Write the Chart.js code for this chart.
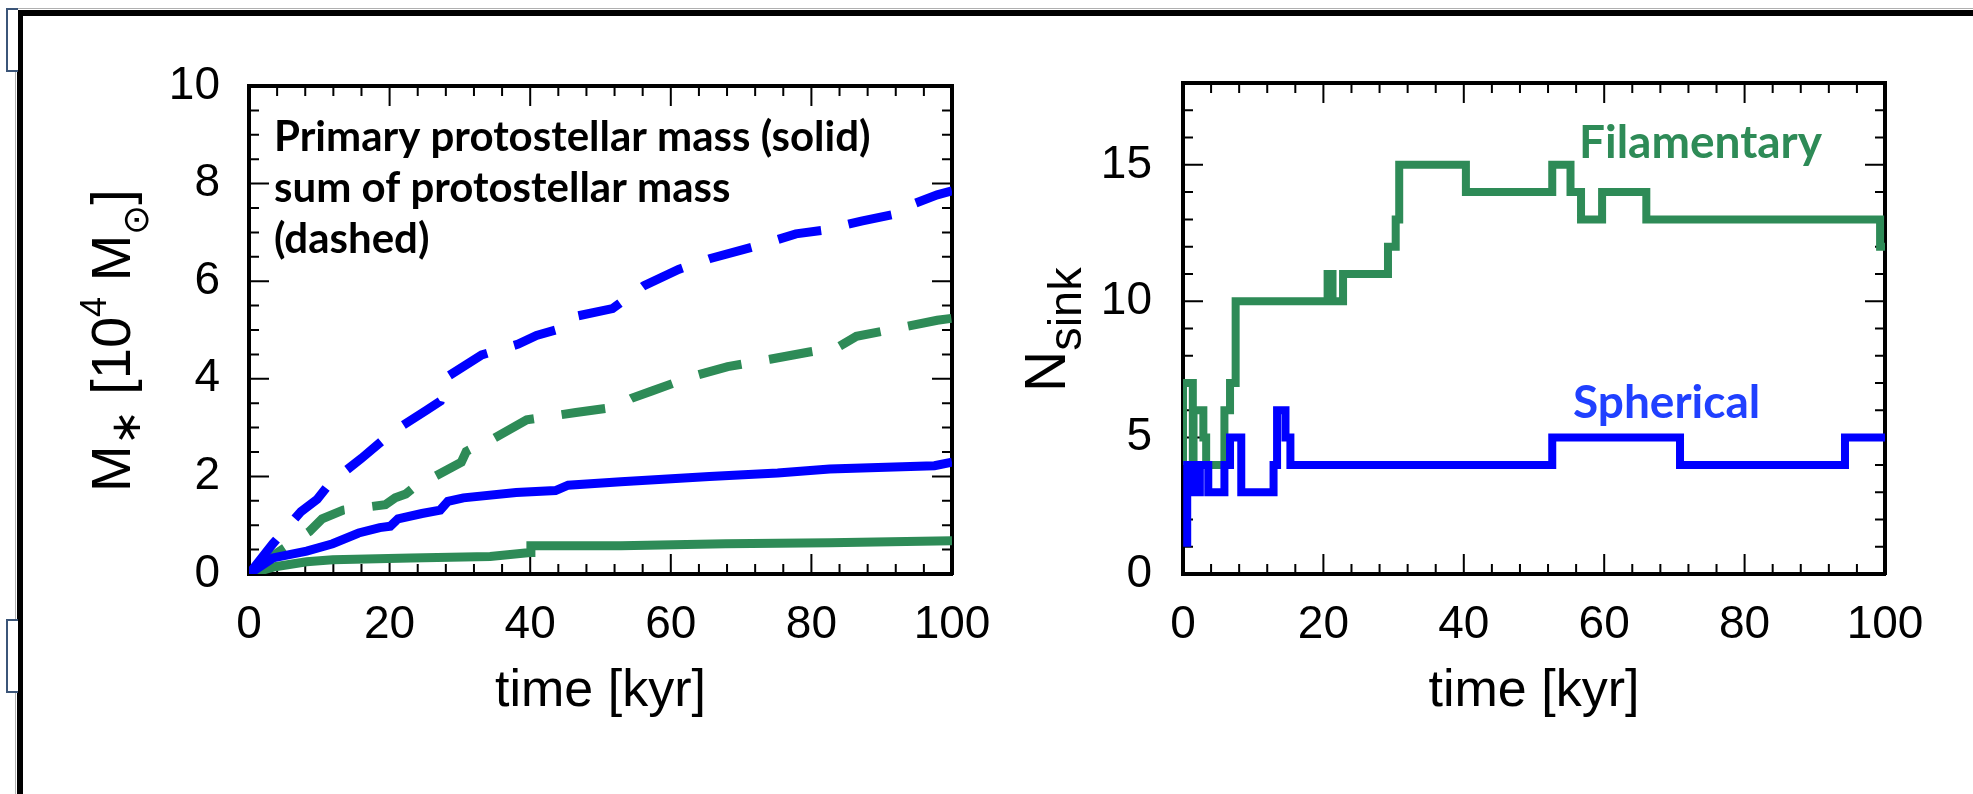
<!DOCTYPE html>
<html>
<head>
<meta charset="utf-8">
<script src="https://cdn.jsdelivr.net/npm/chart.js@4.4.1/dist/chart.umd.min.js"></script>
<style>
  html, body { margin: 0; padding: 0; background: #fff; }
  body { width: 1973px; height: 794px; position: relative; overflow: hidden; }
  .bar { position: absolute; background: #000; }
  .rule { position: absolute; background: #b0b0b0; }
  .tab { position: absolute; left: 6px; width: 10px; border: 2px solid #3b5578; border-right: none; background: #fff; }
  canvas { position: absolute; }
</style>
</head>
<body>
<div class="rule" style="left:15px; top:8px; width:1958px; height:1px;"></div>
<div class="rule" style="left:15px; top:8px; width:1px; height:786px;"></div>
<div class="bar" style="left:17px; top:10px; width:1956px; height:6px;"></div>
<div class="bar" style="left:17px; top:10px; width:6px; height:784px;"></div>
<div class="tab" style="top:8px; height:60px;"></div>
<div class="tab" style="top:619px; height:70px;"></div>
<canvas id="massChart" width="1000" height="760" style="left:30px; top:20px;"></canvas>
<canvas id="sinkChart" width="950" height="760" style="left:1010px; top:20px;"></canvas>
<script>
// left panel: protostellar mass [10^4 Msun] against time [kyr]
const sphPrimaryTime = [0, 3.4, 8.2, 11.9, 15.6, 18.6, 20.1, 21.2, 24.6, 27.2, 28.3, 30.5, 38, 43.6, 45.4, 52.9, 65.5, 75.2, 82.6, 97.5, 100];
const sphPrimaryMass = [0, 0.33, 0.47, 0.62, 0.84, 0.95, 0.98, 1.13, 1.24, 1.31, 1.49, 1.56, 1.67, 1.71, 1.82, 1.89, 2.0, 2.07, 2.15, 2.22, 2.29];
const sphSumTime = [0, 3.4, 7.4, 9.7, 11.5, 16.0, 20.5, 25.3, 27.2, 27.9, 28.3, 33.1, 38.3, 40.9, 43.6, 45.8, 51.7, 56.2, 61.1, 65.5, 72.2, 77.8, 81.5, 87.1, 93.1, 94.6, 97.9, 100];
const sphSumMass = [0, 0.62, 1.28, 1.53, 1.86, 2.37, 2.92, 3.36, 3.54, 3.98, 4.05, 4.49, 4.71, 4.89, 5.0, 5.26, 5.44, 5.91, 6.24, 6.46, 6.72, 6.97, 7.04, 7.23, 7.41, 7.59, 7.77, 7.85];
const filPrimaryTime = [0, 3.7, 8.2, 11.9, 23, 34.3, 40.0, 40.1, 52.9, 67.8, 82.6, 100];
const filPrimaryMass = [0, 0.15, 0.25, 0.29, 0.33, 0.36, 0.44, 0.58, 0.58, 0.62, 0.64, 0.68];
const filSumTime = [0, 4.1, 8.6, 10.4, 13.4, 19.4, 20.8, 22.3, 23.5, 25, 30.2, 30.9, 32.4, 34.6, 39.5, 46.5, 52.1, 54.4, 57.3, 62.9, 68.1, 74.1, 79.7, 83.8, 86.4, 92.7, 97.9, 100];
const filSumMass = [0, 0.44, 0.87, 1.13, 1.31, 1.42, 1.56, 1.64, 1.78, 1.89, 2.29, 2.51, 2.62, 2.76, 3.16, 3.31, 3.42, 3.6, 3.75, 4.04, 4.25, 4.4, 4.55, 4.65, 4.87, 5.05, 5.2, 5.24];

// right panel: number of sinks, each count holds from its time on
const filTime = [0, 0, 1.4, 1.5, 2.9, 3.3, 5.9, 6.7, 7.5, 20.6, 21.3, 22.8, 29.2, 30.3, 30.8, 40.3, 52.6, 55.2, 56.7, 59.7, 66.0, 99.3, 100];
const filCount = [4, 7, 4, 6, 5, 4, 6, 7, 10, 11, 10, 11, 12, 13, 15, 14, 15, 14, 13, 14, 13, 12, 12];
const sphTime = [0.6, 0.6, 1.5, 2.4, 3.6, 5.9, 6.7, 8.3, 12.9, 13.4, 14.6, 15.3, 52.6, 70.8, 94.3, 100];
const sphCount = [1, 4, 3, 4, 3, 4, 5, 3, 4, 6, 5, 4, 5, 4, 5, 5];

// axis ranges and tick steps
const massTicks = { xMax: 100, xMajor: 20, xMinor: 4, yMax: 10, yMajor: 2, yMinor: 0.5 };
const sinkTicks = { xMax: 100, xMajor: 20, xMinor: 4, yMax: 18, yMajor: 5, yMinor: 1 };

const BLUE = "#0000ff";
const GREEN = "#2e8b57";
const sansFont = "'Liberation Sans', Arial, sans-serif";
const tickFont = { family: sansFont, size: 46, lineHeight: 1 };

// inward tick mark length per axis id
const tickMarkLength = { x: 20, xTop: 20, y: 20, yRight: 20, xMinorB: 10, xMinorT: 10, yMinorL: 10, yMinorR: 10 };

const toPoints = (xs, ys) => xs.map((x, i) => ({ x: x, y: ys[i] }));

// one side of the box frame
function frameAxis(position, max, step, weight, size, labels, pad) {
    const horizontal = position === "top" || position === "bottom";
    return {
        type: "linear",
        axis: horizontal ? "x" : "y",
        position: position,
        min: 0,
        max: max,
        weight: weight,
        border: { display: weight === 1, color: "#000", width: 4 },
        grid: { display: false, drawTicks: false },
        ticks: {
            display: labels, stepSize: step, includeBounds: false, autoSkip: false,
            maxRotation: 0, padding: pad, color: "#000", font: tickFont,
        },
        afterFit: (scale) => {
            if (horizontal) scale.height = size; else scale.width = size;
        },
    };
}

function frameScales(t, box) {
    const scales = {
        x: frameAxis("bottom", t.xMax, t.xMajor, 1, box.bottom, true, 28),
        xMinorB: frameAxis("bottom", t.xMax, t.xMinor, 0, 0, false, 0),
        xTop: frameAxis("top", t.xMax, t.xMajor, 1, box.top, false, 0),
        xMinorT: frameAxis("top", t.xMax, t.xMinor, 0, 0, false, 0),
        y: frameAxis("left", t.yMax, t.yMajor, 1, box.left, true, box.labelPad),
        yMinorL: frameAxis("left", t.yMax, t.yMinor, 0, 0, false, 0),
        yRight: frameAxis("right", t.yMax, t.yMajor, 1, box.right, false, 0),
        yMinorR: frameAxis("right", t.yMax, t.yMinor, 0, 0, false, 0),
    };
    scales.x.title = {
        display: true, text: "time [kyr]", color: "#000",
        font: { family: sansFont, size: 52, lineHeight: 1 }, padding: { top: 0, bottom: 62 },
    };
    return scales;
}

// tick marks pointing into the plot, taken from every scale's ticks
const inwardTicks = {
    id: "inwardTicks",
    beforeDatasetsDraw(chart) {
        const ctx = chart.ctx;
        const area = chart.chartArea;
        ctx.save();
        ctx.strokeStyle = "#000";
        ctx.lineWidth = 2;
        ctx.beginPath();
        Object.values(chart.scales).forEach(scale => {
            const len = tickMarkLength[scale.id] || 0;
            scale.ticks.forEach(t => {
                const p = scale.getPixelForValue(t.value);
                if (scale.position === "bottom") { ctx.moveTo(p, area.bottom); ctx.lineTo(p, area.bottom - len); }
                if (scale.position === "top") { ctx.moveTo(p, area.top); ctx.lineTo(p, area.top + len); }
                if (scale.position === "left") { ctx.moveTo(area.left, p); ctx.lineTo(area.left + len, p); }
                if (scale.position === "right") { ctx.moveTo(area.right, p); ctx.lineTo(area.right - len, p); }
            });
        });
        ctx.stroke();
        ctx.restore();
    },
};

// rotated axis title made of pieces (for sub/superscripts)
function drawRotated(ctx, x, y, parts) {
    ctx.save();
    ctx.translate(x, y);
    ctx.rotate(-Math.PI / 2);
    ctx.fillStyle = "#000";
    ctx.textBaseline = "alphabetic";
    let pos = 0;
    parts.forEach(p => {
        ctx.font = p.size + "px " + sansFont;
        ctx.fillText(p.text, pos, p.dy || 0);
        pos += ctx.measureText(p.text).width;
    });
    ctx.restore();
}

function notesPlugin(notes, yTitle) {
    return {
        id: "notes",
        afterDraw(chart) {
            const ctx = chart.ctx;
            ctx.save();
            ctx.textBaseline = "alphabetic";
            ctx.textAlign = "left";
            notes.forEach(n => {
                ctx.font = "bold " + n.size + "px Lato, 'Open Sans', sans-serif";
                ctx.fillStyle = n.color;
                ctx.fillText(n.text, n.x, n.y);
            });
            ctx.restore();
            drawRotated(ctx, yTitle.x, yTitle.y, yTitle.parts);
        },
    };
}

function lineSet(xs, ys, color, width, dashed, stepped) {
    return {
        data: toPoints(xs, ys),
        borderColor: color,
        borderWidth: width,
        borderDash: dashed ? [44, 28] : [],
        borderCapStyle: "butt",
        borderJoinStyle: "miter",
        pointRadius: 0,
        tension: 0,
        stepped: stepped ? "before" : false,
        fill: false,
    };
}

const baseOptions = {
    responsive: false,
    animation: false,
    events: [],
    layout: { padding: 0 },
    plugins: { legend: { display: false }, tooltip: { enabled: false } },
};

new Chart(document.querySelector("#massChart"), {
    type: "line",
    data: {
        datasets: [
            lineSet(sphPrimaryTime, sphPrimaryMass, BLUE, 9, false, false),
            lineSet(sphSumTime, sphSumMass, BLUE, 9, true, false),
            lineSet(filPrimaryTime, filPrimaryMass, GREEN, 9, false, false),
            lineSet(filSumTime, filSumMass, GREEN, 9, true, false),
        ],
    },
    options: Object.assign({}, baseOptions, {
        scales: frameScales(massTicks, { left: 219, right: 78, top: 66, bottom: 206, labelPad: 29 }),
    }),
    plugins: [inwardTicks, notesPlugin([
        { text: "Primary protostellar mass (solid)", x: 244, y: 131, size: 42, color: "#000" },
        { text: "sum of protostellar mass", x: 244, y: 182, size: 42, color: "#000" },
        { text: "(dashed)", x: 244, y: 233, size: 42, color: "#000" },
    ], {
        x: 100, y: 472,
        parts: [
            { text: "M", size: 56 },
            { text: "\u2217", size: 42, dy: 10 },
            { text: " [10", size: 56 },
            { text: "4", size: 36, dy: -24 },
            { text: " M", size: 56 },
            { text: "\u2299", size: 36, dy: 18 },
            { text: "]", size: 56 },
        ],
    })],
});

new Chart(document.querySelector("#sinkChart"), {
    type: "line",
    data: {
        datasets: [
            lineSet(sphTime, sphCount, BLUE, 8, false, true),
            lineSet(filTime, filCount, GREEN, 8, false, true),
        ],
    },
    options: Object.assign({}, baseOptions, {
        scales: frameScales(sinkTicks, { left: 173, right: 75, top: 63, bottom: 206, labelPad: 31 }),
    }),
    plugins: [inwardTicks, notesPlugin([
        { text: "Filamentary", x: 569, y: 138, size: 46, color: GREEN },
        { text: "Spherical", x: 563, y: 398, size: 46, color: "#2040ff" },
    ], {
        x: 55, y: 372,
        parts: [
            { text: "N", size: 57 },
            { text: "sink", size: 47, dy: 16 },
        ],
    })],
});
</script>
</body>
</html>
